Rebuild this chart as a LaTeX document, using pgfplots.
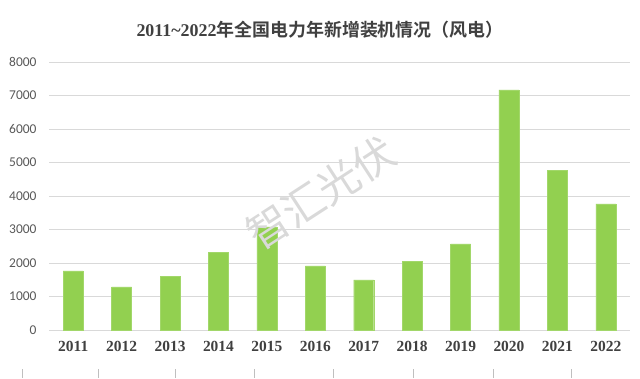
\documentclass[border=0pt]{standalone}
\usepackage{fontspec}
\usepackage{pgfplots}
\pgfplotsset{compat=1.18}
\setmainfont{Liberation Serif}
\newfontfamily\carlito{Carlito}
\newfontfamily\cjk{Noto Sans CJK SC}[BoldFont={Noto Sans CJK SC Bold}]
\definecolor{bargreen}{HTML}{92D050}
\definecolor{txtgray}{HTML}{404040}
\definecolor{ticgray}{HTML}{595959}
\definecolor{gridgray}{HTML}{D9D9D9}
\begin{document}
\begin{tikzpicture}[x=1bp,y=1bp]
\path (0,0) rectangle (640,378);
\begin{axis}[
  at={(49bp,48bp)}, anchor=south west,
  scale only axis, width=581bp, height=268bp,
  xmin=-0.5, xmax=11.5, ymin=0, ymax=8000,
  ytick={0,1000,...,8000},
  xtick={0,...,11},
  xticklabels={2011,2012,2013,2014,2015,2016,2017,2018,2019,2020,2021,2022},
  ymajorgrids, grid style={gridgray, line width=0.8pt},
  axis line style={draw=none},
  major tick length=0pt,
  yticklabel style={font=\carlito\fontsize{13.5}{14}\selectfont, text=ticgray, xshift=-9bp},
  xticklabel style={font=\bfseries\fontsize{15.5}{16}\selectfont, text=txtgray, yshift=-8bp},
  /pgf/number format/assume math mode=true,
  scaled y ticks=false,
  yticklabel={\pgfmathprintnumber[fixed,1000 sep={}]{\tick}},
  ybar, bar width=20bp, clip=false,
]
\addplot[fill=bargreen, draw=bargreen!85!white] coordinates {
(0,1763) (1,1285) (2,1595) (3,2319) (4,3075) (5,1915) (6,1495) (7,2050) (8,2574) (9,7167) (10,4757) (11,3763)};
\end{axis}
\node[font=\cjk\fontsize{42}{42}\selectfont, text=black!15, rotate=33] at (321bp,185bp) {智汇光伏};
\node[text=txtgray, font=\bfseries\fontsize{18}{19}\selectfont] at (320bp,348bp) {2011\textasciitilde2022{\cjk 年全国电力年新增装机情况（风电）}};
\foreach \xx in {22,98,175,254,333,413,493,571} \draw[gray!50, line width=0.6pt] (\xx bp,0) -- (\xx bp,9bp);
\end{tikzpicture}
\end{document}
